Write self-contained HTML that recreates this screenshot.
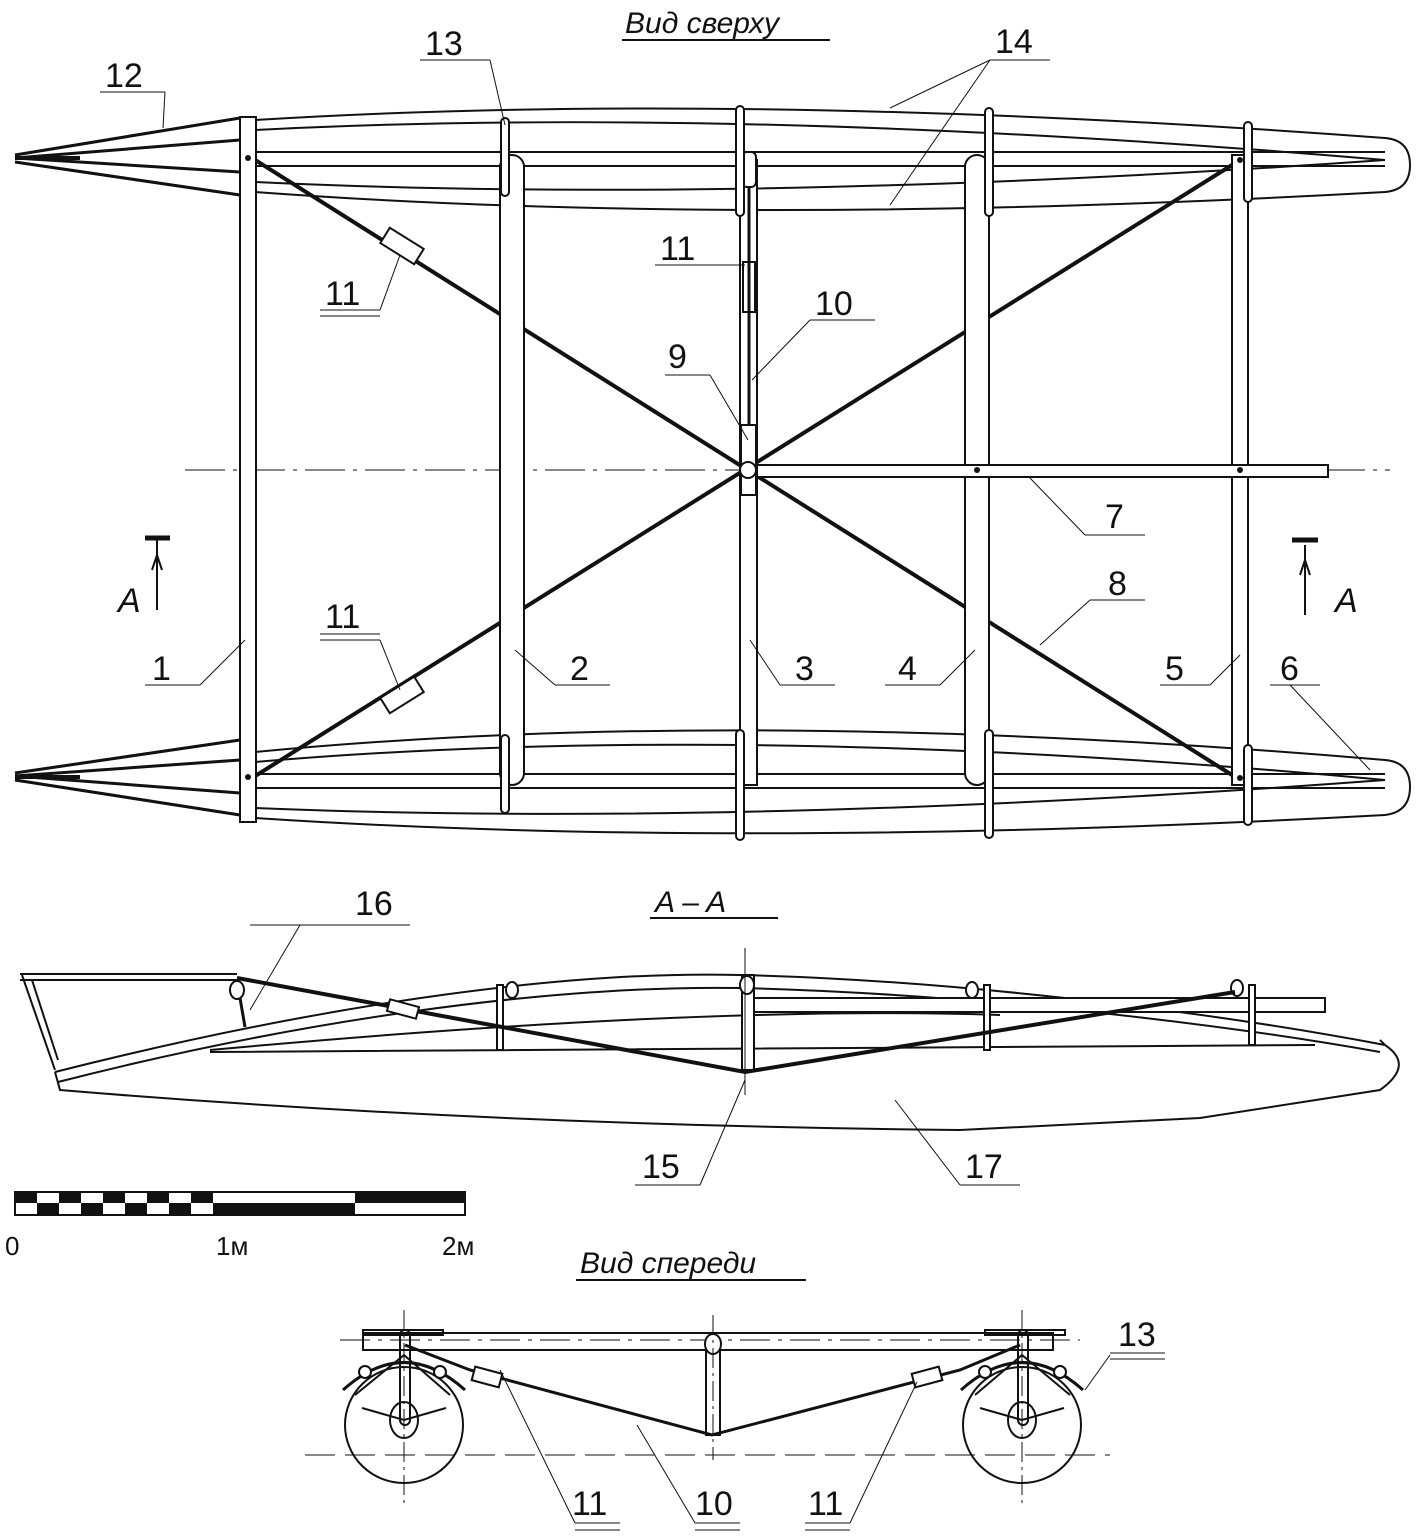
<!DOCTYPE html>
<html><head><meta charset="utf-8"><style>
html,body{margin:0;padding:0;background:#fff}
svg{display:block}
text{font-family:"Liberation Sans",sans-serif;fill:#111}
</style></head><body>
<svg width="1416" height="1536" viewBox="0 0 1416 1536" xmlns="http://www.w3.org/2000/svg" fill="none" stroke="#111" stroke-width="2">
<!-- TOP VIEW -->
<text x="625" y="33" font-size="30" font-style="italic" stroke="none">Вид сверху</text>
<line x1="622" y1="40" x2="830" y2="40"/>
<!-- upper hull -->
<path d="M255 120 Q740 90 1385 138 Q1410 140 1410 165 Q1410 190 1385 192 Q740 228 255 192"/>
<path d="M255 130 Q740 105 1385 160 Q740 205 255 182"/>
<line x1="255" y1="152" x2="1385" y2="152"/><line x1="255" y1="166" x2="1385" y2="166"/>
<!-- lower hull -->
<path d="M255 752 Q740 705 1385 760 Q1410 762 1410 787 Q1410 812 1385 815 Q740 850 255 818"/>
<path d="M255 762 Q740 720 1385 780 Q740 828 255 808"/>
<line x1="255" y1="774" x2="1385" y2="774"/><line x1="255" y1="788" x2="1385" y2="788"/>
<!-- bows -->
<g stroke-width="3"><path d="M15 155 L240 118 M15 162 L240 195 M15 158 L240 140 M15 158 L240 172"/>
<path d="M15 773 L240 740 M15 780 L240 815 M15 776 L240 760 M15 776 L240 793"/></g>
<line x1="15" y1="158" x2="80" y2="158" stroke-width="4"/><line x1="15" y1="777" x2="80" y2="777" stroke-width="4"/>
<!-- diagonals -->
<line x1="252" y1="158" x2="1240" y2="780" stroke-width="4"/>
<line x1="252" y1="778" x2="1240" y2="160" stroke-width="4"/>
<!-- centerline -->
<line x1="185" y1="470" x2="1390" y2="470" stroke-width="1" stroke-dasharray="40 8 4 8"/>
<!-- beams -->
<g fill="#fff">
<rect x="240" y="117" width="16" height="705"/>
<rect x="500" y="155" width="24" height="630" rx="12"/>
<rect x="740" y="160" width="17" height="625"/>
<rect x="965" y="155" width="24" height="630" rx="12"/>
<rect x="1232" y="155" width="16" height="630"/>
<rect x="757" y="465" width="571" height="12"/>
<rect x="741" y="425" width="15" height="70"/>
<circle cx="748" cy="470" r="8"/>
<rect x="742" y="152" width="14" height="35" rx="5"/>
<rect x="382" y="237" width="40" height="18" transform="rotate(32 402 246)"/>
<rect x="382" y="686" width="40" height="18" transform="rotate(-32 402 695)"/>
<rect x="743" y="262" width="12" height="50"/>
</g>
<line x1="749" y1="187" x2="749" y2="425" stroke-width="3"/>
<!-- frames 13 -->
<g stroke-width="2" fill="#fff"><rect x="501" y="118" width="8" height="78" rx="4"/><rect x="736" y="106" width="8" height="110" rx="4"/><rect x="985" y="108" width="8" height="108" rx="4"/><rect x="1244" y="122" width="8" height="80" rx="4"/>
<rect x="501" y="735" width="8" height="78" rx="4"/><rect x="736" y="730" width="8" height="110" rx="4"/><rect x="985" y="730" width="8" height="108" rx="4"/><rect x="1244" y="745" width="8" height="80" rx="4"/></g>
<g fill="#111" stroke="none"><circle cx="248" cy="158" r="3"/><circle cx="248" cy="777" r="3"/><circle cx="977" cy="470" r="3"/><circle cx="1240" cy="470" r="3"/><circle cx="1240" cy="160" r="3"/><circle cx="1240" cy="778" r="3"/></g>
<!-- leaders & numbers -->
<g stroke-width="1">
<line x1="100" y1="92" x2="165" y2="92"/><line x1="165" y1="92" x2="163" y2="128"/>
<line x1="420" y1="60" x2="490" y2="60"/><line x1="490" y1="60" x2="505" y2="125"/>
<line x1="990" y1="60" x2="1050" y2="60"/><line x1="990" y1="60" x2="890" y2="108"/><line x1="990" y1="60" x2="890" y2="205"/>
<line x1="655" y1="265" x2="745" y2="265"/>
<line x1="320" y1="310" x2="380" y2="310"/><line x1="380" y1="310" x2="400" y2="255"/>
<line x1="810" y1="320" x2="875" y2="320"/><line x1="810" y1="320" x2="752" y2="380"/>
<line x1="665" y1="375" x2="710" y2="375"/><line x1="710" y1="375" x2="748" y2="440"/>
<line x1="1085" y1="535" x2="1145" y2="535"/><line x1="1085" y1="535" x2="1030" y2="478"/>
<line x1="1090" y1="600" x2="1145" y2="600"/><line x1="1090" y1="600" x2="1040" y2="645"/>
<line x1="320" y1="640" x2="380" y2="640"/><line x1="380" y1="640" x2="400" y2="690"/>
<line x1="145" y1="685" x2="200" y2="685"/><line x1="200" y1="685" x2="245" y2="640"/>
<line x1="555" y1="685" x2="610" y2="685"/><line x1="555" y1="685" x2="515" y2="650"/>
<line x1="780" y1="685" x2="835" y2="685"/><line x1="780" y1="685" x2="750" y2="640"/>
<line x1="885" y1="685" x2="940" y2="685"/><line x1="940" y1="685" x2="975" y2="650"/>
<line x1="1160" y1="685" x2="1210" y2="685"/><line x1="1210" y1="685" x2="1240" y2="655"/>
<line x1="1270" y1="685" x2="1320" y2="685"/><line x1="1290" y1="685" x2="1370" y2="770"/>
</g>
<line x1="320" y1="316" x2="380" y2="316" stroke-width="1"/><line x1="320" y1="634" x2="380" y2="634" stroke-width="1"/>
<g font-size="34" stroke="none" fill="#111">
<text x="105" y="87">12</text><text x="425" y="55">13</text><text x="995" y="53">14</text>
<text x="660" y="260">11</text><text x="325" y="305">11</text><text x="815" y="315">10</text>
<text x="668" y="368">9</text><text x="1105" y="528">7</text><text x="1108" y="595">8</text>
<text x="325" y="628">11</text><text x="152" y="680">1</text><text x="570" y="680">2</text>
<text x="795" y="680">3</text><text x="898" y="680">4</text><text x="1165" y="680">5</text><text x="1280" y="680">6</text>
<text x="118" y="612" font-style="italic">A</text><text x="1335" y="612" font-style="italic">A</text>
</g>
<g stroke-width="5"><line x1="145" y1="538" x2="170" y2="538"/><line x1="1292" y1="540" x2="1318" y2="540"/></g>
<path d="M157 540 V610 M1305 545 V615" stroke-width="2"/>
<path d="M152 570 L157 555 L162 570 M1300 575 L1305 560 L1310 575" stroke-width="2"/>
<!-- SECTION A-A -->
<text x="655" y="912" font-size="30" font-style="italic" stroke="none">A – A</text>
<line x1="650" y1="918" x2="778" y2="918"/>
<path d="M20 974 H237 M20 980 H237 M22 975 L55 1070 M32 980 L58 1060"/>
<path d="M55 1072 L60 1090 Q480 1125 960 1130 L1200 1118 L1380 1090 Q1415 1065 1385 1045 L1380 1040"/>
<path d="M55 1072 C300 1010 550 970 740 975 C950 980 1200 1010 1385 1045 M58 1082 C300 1020 550 985 740 988 C950 993 1200 1020 1380 1052"/>
<path d="M210 1052 L1315 1045 M210 1050 Q700 1005 1000 1015"/>
<g fill="#fff"><rect x="745" y="998" width="580" height="14"/><rect x="742" y="975" width="12" height="95"/></g>
<g fill="#fff"><rect x="497" y="985" width="6" height="65"/><rect x="984" y="985" width="6" height="65"/><rect x="1249" y="985" width="6" height="60"/><ellipse cx="512" cy="990" rx="6" ry="8"/><ellipse cx="747" cy="985" rx="7" ry="9"/><ellipse cx="972" cy="990" rx="6" ry="8"/><ellipse cx="1237" cy="988" rx="6" ry="8"/><ellipse cx="237" cy="990" rx="7" ry="9"/></g>
<line x1="240" y1="998" x2="245" y2="1027" stroke-width="3"/>
<path d="M237 978 L745 1072 L1235 992" stroke-width="4"/>
<rect x="388" y="1003" width="30" height="12" fill="#fff" transform="rotate(15 403 1009)"/>
<line x1="745" y1="948" x2="745" y2="1095" stroke-width="1"/>
<g stroke-width="1"><line x1="250" y1="925" x2="410" y2="925"/><line x1="300" y1="925" x2="250" y2="1010"/>
<line x1="635" y1="1185" x2="700" y2="1185"/><line x1="700" y1="1185" x2="745" y2="1080"/>
<line x1="960" y1="1185" x2="1020" y2="1185"/><line x1="960" y1="1185" x2="895" y2="1100"/></g>
<g font-size="34" stroke="none" fill="#111"><text x="355" y="915">16</text><text x="642" y="1178">15</text><text x="965" y="1178">17</text></g>
<!-- scale -->
<g stroke="none" fill="#111">
<rect x="15" y="1192" width="450" height="23" fill="#fff" stroke="#111" stroke-width="2"/>
<rect x="15" y="1192" width="22" height="11"/><rect x="59" y="1192" width="22" height="11"/><rect x="103" y="1192" width="22" height="11"/><rect x="147" y="1192" width="22" height="11"/><rect x="191" y="1192" width="22" height="11"/>
<rect x="37" y="1203" width="22" height="12"/><rect x="81" y="1203" width="22" height="12"/><rect x="125" y="1203" width="22" height="12"/><rect x="169" y="1203" width="22" height="12"/><rect x="213" y="1203" width="27" height="12"/>
<rect x="240" y="1203" width="115" height="12"/><rect x="355" y="1192" width="110" height="11"/>
<text x="5" y="1255" font-size="26">0</text><text x="216" y="1255" font-size="26">1м</text><text x="442" y="1255" font-size="26">2м</text>
</g>
<!-- FRONT VIEW -->
<text x="580" y="1273" font-size="30" font-style="italic" stroke="none">Вид спереди</text>
<line x1="576" y1="1280" x2="806" y2="1280"/>
<line x1="340" y1="1340" x2="1080" y2="1340" stroke-width="1" stroke-dasharray="30 8 4 8"/>
<line x1="305" y1="1455" x2="1110" y2="1455" stroke-width="1" stroke-dasharray="30 10"/>
<rect x="363" y="1333" width="690" height="17"/>
<rect x="363" y="1330" width="80" height="5"/><rect x="985" y="1330" width="80" height="5"/>
<rect x="706" y="1340" width="14" height="95" fill="#fff"/><ellipse cx="713" cy="1344" rx="8" ry="10" fill="#fff"/>
<path d="M405 1345 L470 1370 L712 1435 L960 1370 L1020 1345" stroke-width="3"/>
<rect x="473" y="1370" width="28" height="14" fill="#fff" transform="rotate(15 487 1377)"/>
<rect x="913" y="1370" width="28" height="14" fill="#fff" transform="rotate(-15 927 1377)"/>
<g>
<ellipse cx="404" cy="1425" rx="59" ry="58"/><ellipse cx="1022" cy="1425" rx="59" ry="58"/>
<ellipse cx="404" cy="1420" rx="14" ry="18"/><ellipse cx="1022" cy="1420" rx="14" ry="18"/>
<rect x="400" y="1330" width="10" height="95" rx="5"/><rect x="1018" y="1330" width="10" height="95" rx="5"/>
<path d="M355 1395 L404 1355 L450 1395 M975 1395 L1022 1355 L1070 1395 M362 1408 L404 1420 L446 1408 M980 1408 L1022 1420 L1064 1408"/>
<path d="M343 1390 Q404 1335 465 1390 M961 1390 Q1022 1335 1083 1390" stroke-width="3"/>
<circle cx="365" cy="1372" r="6" fill="#fff"/><circle cx="440" cy="1372" r="6" fill="#fff"/><circle cx="985" cy="1372" r="6" fill="#fff"/><circle cx="1060" cy="1372" r="6" fill="#fff"/>
</g>
<g stroke-width="1"><line x1="404" y1="1310" x2="404" y2="1505" stroke-dasharray="20 5 3 5"/><line x1="1022" y1="1310" x2="1022" y2="1505" stroke-dasharray="20 5 3 5"/><line x1="713" y1="1315" x2="713" y2="1460" stroke-dasharray="20 5 3 5"/>
<line x1="575" y1="1523" x2="620" y2="1523"/><line x1="575" y1="1530" x2="620" y2="1530"/><line x1="575" y1="1523" x2="500" y2="1370"/>
<line x1="695" y1="1523" x2="740" y2="1523"/><line x1="695" y1="1530" x2="740" y2="1530"/><line x1="695" y1="1523" x2="637" y2="1425"/>
<line x1="805" y1="1523" x2="850" y2="1523"/><line x1="805" y1="1530" x2="850" y2="1530"/><line x1="850" y1="1523" x2="917" y2="1382"/>
<line x1="1110" y1="1353" x2="1165" y2="1353"/><line x1="1110" y1="1359" x2="1165" y2="1359"/><line x1="1110" y1="1355" x2="1085" y2="1390"/></g>
<g font-size="34" stroke="none" fill="#111"><text x="572" y="1515">11</text><text x="695" y="1515">10</text><text x="808" y="1515">11</text><text x="1118" y="1346">13</text></g>
</svg>
</body></html>
